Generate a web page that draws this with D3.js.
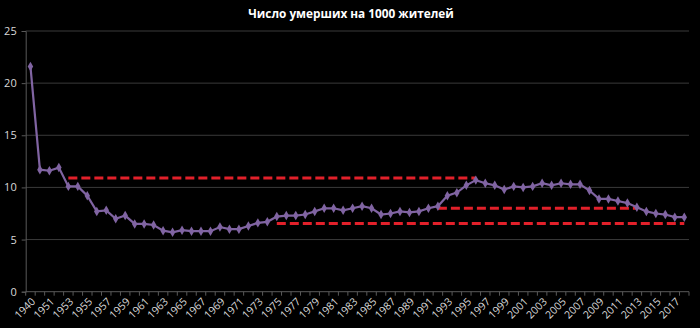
<!DOCTYPE html>
<html><head><meta charset="utf-8">
<script src="https://cdn.jsdelivr.net/npm/d3@7"></script>
<style>html,body{margin:0;padding:0;background:#000;}svg{display:block;}</style>
</head><body>
<script>
const title = "Число умерших на 1000 жителей";
const years = [1940,1950,1951,1952,1953,1954,1955,1956,1957,1958,1959,1960,1961,1962,1963,1964,1965,1966,1967,1968,1969,1970,1971,1972,1973,1974,1975,1976,1977,1978,1979,1980,1981,1982,1983,1984,1985,1986,1987,1988,1989,1990,1991,1992,1993,1994,1995,1996,1997,1998,1999,2000,2001,2002,2003,2004,2005,2006,2007,2008,2009,2010,2011,2012,2013,2014,2015,2016,2017,2018];
const deaths = [21.6,11.7,11.6,11.9,10.1,10.1,9.2,7.7,7.8,7.0,7.3,6.5,6.5,6.4,5.85,5.7,5.9,5.8,5.8,5.8,6.2,6.0,6.0,6.3,6.6,6.7,7.2,7.3,7.3,7.4,7.7,8.0,8.0,7.8,8.0,8.2,8.0,7.4,7.5,7.7,7.6,7.7,8.0,8.2,9.2,9.5,10.2,10.7,10.4,10.2,9.8,10.1,10.0,10.1,10.4,10.2,10.4,10.3,10.3,9.7,8.9,8.9,8.7,8.5,8.1,7.7,7.5,7.4,7.15,7.15];
const yTicks = [0,5,10,15,20,25];
// reference levels
const refStart = [1953, 1975, 1992];
const refEnd = [1996, 2018, 2013];
const refValue = [10.9, 6.55, 8.0];

const W = 700, H = 328;
const svg = d3.select("body").append("svg").attr("width", W).attr("height", H);
svg.append("rect").attr("width", W).attr("height", H).attr("fill", "#000");

const pL = 25.7, pR = 689, pT = 31, pB = 291.7;
const x = d3.scaleBand().domain(years).range([pL, pR]).padding(0);
const cx = d => x(d) + x.bandwidth() / 2;
const y = d3.scaleLinear().domain([0, 25]).range([pB, pT]);

// gridlines
svg.append("g").selectAll("line").data(yTicks.filter(t => t > 0)).join("line")
  .attr("x1", pL).attr("x2", pR)
  .attr("y1", d => y(d)).attr("y2", d => y(d))
  .attr("stroke", "#3a3a3a").attr("stroke-width", 1);

// y axis
const yAxis = d3.axisLeft(y).tickValues(yTicks).tickSize(4).tickPadding(5);
const gy = svg.append("g").attr("transform", `translate(${pL},0)`).call(yAxis);
gy.select(".domain").attr("stroke", "#595959");
gy.selectAll(".tick line").attr("stroke", "#595959");
gy.selectAll("text").attr("fill", "#d9d9d9").style("font-family", "'Open Sans', sans-serif").style("font-size", "11px");

// x axis
const gx = svg.append("g").attr("transform", `translate(0,${pB})`);
gx.append("line").attr("x1", pL).attr("x2", pR).attr("y1", 0).attr("y2", 0).attr("stroke", "#595959");
const bounds = years.map(d => x(d)).concat([pR]);
gx.selectAll("line.tk").data(bounds).join("line").attr("class", "tk")
  .attr("x1", d => d).attr("x2", d => d).attr("y1", 0).attr("y2", 4)
  .attr("stroke", "#595959");
gx.selectAll("text").data(years.filter((d, i) => i % 2 === 0)).join("text")
  .attr("transform", d => `translate(${cx(d) + 3},${8}) rotate(-45)`)
  .attr("text-anchor", "end").attr("dy", "0.35em")
  .attr("fill", "#d9d9d9").style("font-family", "'Open Sans', sans-serif").style("font-size", "10.5px")
  .text(d => d);

// reference dashed lines
svg.append("g").selectAll("line").data(refValue).join("line")
  .attr("x1", (d, i) => cx(refStart[i])).attr("x2", (d, i) => cx(refEnd[i]))
  .attr("y1", d => y(d)).attr("y2", d => y(d))
  .attr("stroke", "#e2202a").attr("stroke-width", 3).attr("stroke-dasharray", "9,4");

// data line
const pts = years.map((yr, i) => [yr, deaths[i]]);
svg.append("path").datum(pts)
  .attr("d", d3.line().x(d => cx(d[0])).y(d => y(d[1])))
  .attr("fill", "none").attr("stroke", "#8064a2").attr("stroke-width", 2.2);
svg.append("g").selectAll("path").data(pts).join("path")
  .attr("transform", d => `translate(${cx(d[0])},${y(d[1])})`)
  .attr("d", d3.symbol().type(d3.symbolDiamond).size(26))
  .attr("fill", "#8064a2");

// title
svg.append("text").attr("x", 351).attr("y", 18).attr("text-anchor", "middle")
  .attr("fill", "#fff").style("font-family", "'Open Sans', sans-serif")
  .style("font-weight", "bold").style("font-size", "11.8px").text(title);
</script>
</body></html>
